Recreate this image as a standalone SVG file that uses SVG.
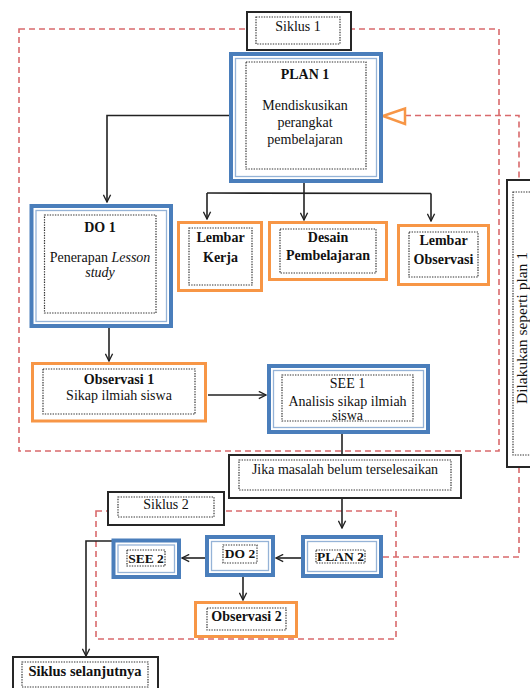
<svg xmlns="http://www.w3.org/2000/svg" width="530" height="688" viewBox="0 0 530 688">
<defs>
<style>
.bg{fill:#fff}
.blue{fill:#fff;stroke:#4a7ebb;stroke-width:4}
.blue2{fill:none;stroke:#95b3d7;stroke-width:1.3}
.org{fill:#fff;stroke:#f79646;stroke-width:3}
.blk{fill:#fff;stroke:#262626;stroke-width:2}
.dot{fill:none;stroke:#333;stroke-width:1.2;stroke-dasharray:1.4 1.2}
.red{fill:none;stroke:#d96a6c;stroke-width:1.6;stroke-dasharray:6 4}
.con{fill:none;stroke:#222;stroke-width:1.6}
text{font-family:"Liberation Serif","Times New Roman",serif;font-size:14px;fill:#111;text-anchor:middle}
.b{font-weight:bold}
.i{font-style:italic}
</style>
<marker id="arr" viewBox="0 0 10 10" refX="9" refY="5" markerWidth="9" markerHeight="9" orient="auto" markerUnits="userSpaceOnUse">
<path d="M1,1 L9,5 L1,9" fill="none" stroke="#222" stroke-width="1.5"/>
</marker>
</defs>
<rect width="530" height="688" fill="#fff"/>

<g id="cycle-frames">
<rect class="red" x="19" y="29" width="480" height="422"/>
<rect class="red" x="96" y="511" width="300" height="128"/>
</g>

<g id="connectors">
<polyline class="con" points="229,115.5 107,115.5 107,202" marker-end="url(#arr)"/>
<line class="con" x1="304" y1="183" x2="304" y2="193"/>
<line class="con" x1="207" y1="193" x2="431" y2="193.5"/>
<line class="con" x1="207" y1="193" x2="207" y2="219" marker-end="url(#arr)"/>
<line class="con" x1="304" y1="193" x2="304" y2="220" marker-end="url(#arr)"/>
<line class="con" x1="431" y1="193.5" x2="431" y2="221" marker-end="url(#arr)"/>
<line class="con" x1="109" y1="328" x2="109" y2="361" marker-end="url(#arr)"/>
<line class="con" x1="208" y1="395" x2="266" y2="395" marker-end="url(#arr)"/>
<line class="con" x1="342" y1="434" x2="342" y2="455"/>
<line class="con" x1="342" y1="498" x2="342" y2="528" marker-end="url(#arr)"/>
<line class="con" x1="301" y1="558" x2="276" y2="558" marker-end="url(#arr)"/>
<line class="con" x1="205" y1="558" x2="182" y2="558" marker-end="url(#arr)"/>
<line class="con" x1="243" y1="577" x2="243" y2="600" marker-end="url(#arr)"/>
<polyline class="con" points="115,541 86,541 86,656" marker-end="url(#arr)"/>
<polyline class="red" points="405,115.5 519,115.5 519,180"/>
<polyline class="red" points="519,467 519,557 383,557"/>
<polygon points="383,116 405,108.5 405,124" fill="#fff" stroke="#f79646" stroke-width="2.5"/>
</g>

<g id="siklus1">
<rect class="blk" x="247" y="12" width="104" height="38"/>
<rect class="dot" x="256" y="17" width="84" height="27"/>
<text x="298" y="31">Siklus 1</text>
</g>

<g id="plan1">
<rect class="blue" x="231" y="54" width="150" height="127"/>
<rect class="blue2" x="235.5" y="58.5" width="141" height="118"/>
<rect class="dot" x="246" y="62" width="120" height="107"/>
<text class="b" x="305" y="79">PLAN 1</text>
<text x="305" y="110">Mendiskusikan</text>
<text x="305" y="127">perangkat</text>
<text x="305" y="144">pembelajaran</text>
</g>

<g id="do1">
<rect class="blue" x="31.5" y="206" width="139.5" height="120"/>
<rect class="blue2" x="36" y="210.5" width="130.5" height="111"/>
<rect class="dot" x="44.5" y="215" width="111.5" height="98"/>
<text class="b" x="100" y="232">DO 1</text>
<text x="100" y="262">Penerapan <tspan class="i">Lesson</tspan></text>
<text class="i" x="100" y="277">study</text>
</g>

<g id="lembar-kerja">
<rect class="org" x="178.5" y="222.5" width="83" height="68"/>
<rect class="dot" x="189" y="228" width="63" height="57"/>
<text class="b" x="220.5" y="242">Lembar</text>
<text class="b" x="220.5" y="262">Kerja</text>
</g>

<g id="desain">
<rect class="org" x="269.5" y="222.5" width="117" height="57"/>
<rect class="dot" x="280" y="229" width="96" height="44"/>
<text class="b" x="328" y="242">Desain</text>
<text class="b" x="328" y="260">Pembelajaran</text>
</g>

<g id="lembar-observasi">
<rect class="org" x="398.5" y="225.5" width="90" height="59"/>
<rect class="dot" x="409" y="232" width="69" height="45"/>
<text class="b" x="443.5" y="245">Lembar</text>
<text class="b" x="443.5" y="264">Observasi</text>
</g>

<g id="observasi1">
<rect class="org" x="32.5" y="363.5" width="173" height="57.5"/>
<rect class="dot" x="43" y="369" width="152" height="45"/>
<text class="b" x="119" y="383.5">Observasi 1</text>
<text x="119" y="400">Sikap ilmiah siswa</text>
</g>

<g id="see1">
<rect class="blue" x="269" y="366" width="159" height="66"/>
<rect class="blue2" x="273.5" y="370.5" width="150" height="57"/>
<rect class="dot" x="282" y="375" width="131" height="46"/>
<text x="347.5" y="388">SEE 1</text>
<text x="347.5" y="405.5">Analisis sikap ilmiah</text>
<text x="347.5" y="420">siswa</text>
</g>

<g id="jika">
<rect class="blk" x="229" y="455" width="232" height="43"/>
<rect class="dot" x="239" y="460" width="212" height="30"/>
<text x="345" y="473.5">Jika masalah belum terselesaikan</text>
</g>

<g id="dilakukan">
<rect class="blk" x="507" y="180" width="30" height="287"/>
<rect class="dot" x="513" y="192" width="30" height="263"/>
<text x="527" y="328" transform="rotate(-90 527 328)" style="font-size:15.5px">Dilakukan seperti plan 1</text>
</g>

<g id="siklus2">
<rect class="blk" x="108" y="492" width="116" height="33"/>
<rect class="dot" x="118" y="497" width="96" height="20"/>
<text x="166" y="508.5">Siklus 2</text>
</g>

<g id="plan2">
<rect class="blue" x="303" y="537" width="78" height="39"/>
<rect class="blue2" x="307.5" y="541.5" width="69" height="30"/>
<rect class="dot" x="316" y="550" width="49" height="13"/>
<text class="b" x="340.5" y="561" style="font-size:13.5px">PLAN 2</text>
</g>

<g id="do2">
<rect class="blue" x="207" y="537" width="66" height="38"/>
<rect class="blue2" x="211.5" y="541.5" width="57" height="29"/>
<rect class="dot" x="223" y="545" width="34" height="18"/>
<text class="b" x="240" y="558" style="font-size:13.5px">DO 2</text>
</g>

<g id="see2">
<rect class="blue" x="113.5" y="540.5" width="65.5" height="36.5"/>
<rect class="blue2" x="118" y="545" width="56.5" height="27.5"/>
<rect class="dot" x="127" y="550" width="38" height="16"/>
<text class="b" x="146" y="563" style="font-size:13.5px">SEE 2</text>
</g>

<g id="observasi2">
<rect class="org" x="195.5" y="602.5" width="101" height="34"/>
<rect class="dot" x="207" y="608" width="79" height="22"/>
<text class="b" x="246.5" y="621">Observasi 2</text>
</g>

<g id="siklus-selanjutnya">
<rect class="blk" x="13" y="657" width="145" height="40"/>
<rect class="dot" x="22" y="662" width="126" height="25"/>
<text class="b" x="85" y="676" style="font-size:14.5px">Siklus selanjutnya</text>
</g>
</svg>
